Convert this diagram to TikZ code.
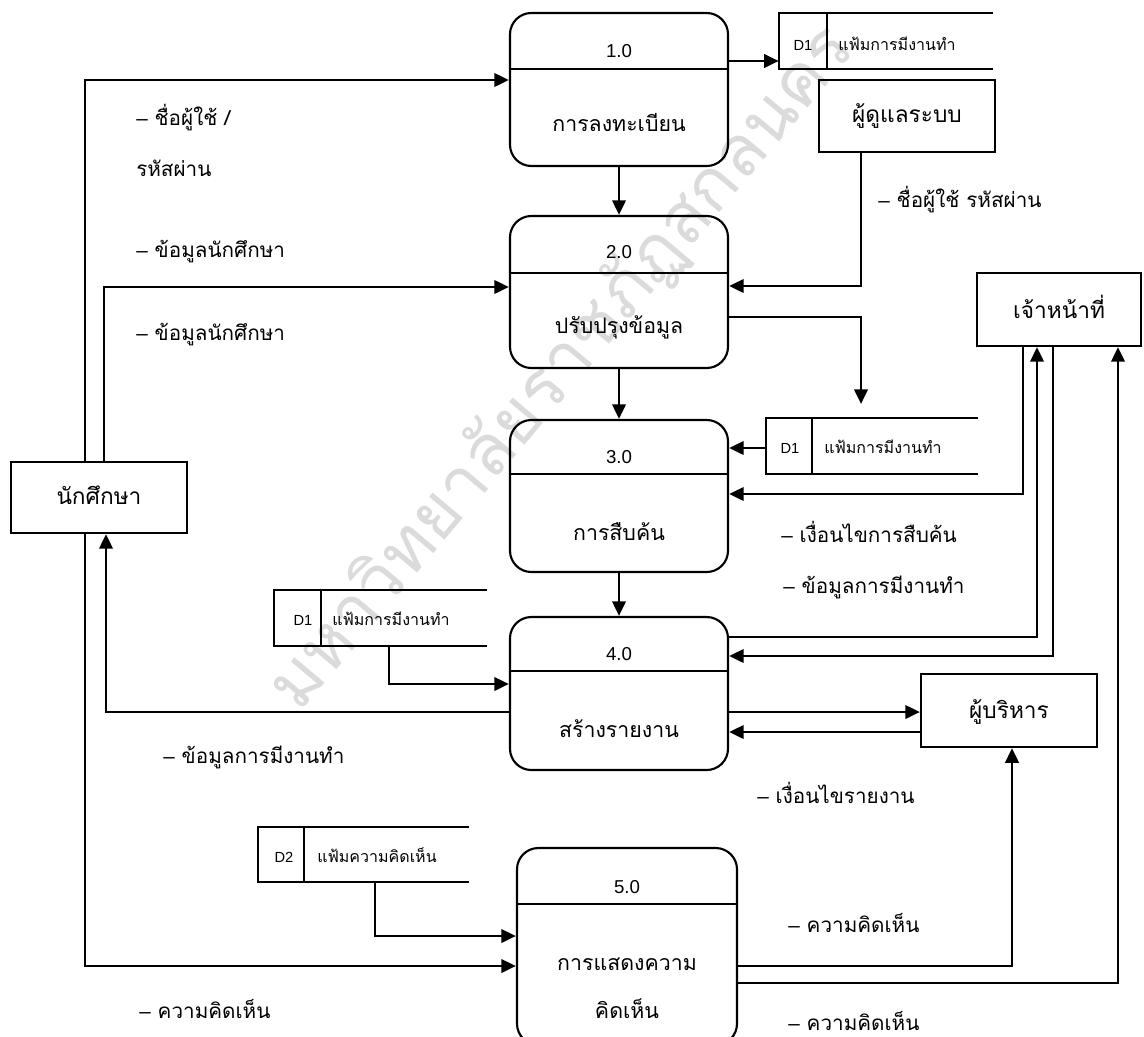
\documentclass[tikz,border=0pt]{standalone}
\usepackage{fontspec}
\setmainfont[Script=Thai]{Loma}
\newfontfamily\lat{Liberation Sans}
\usetikzlibrary{arrows.meta}
\newcommand\dd{{\lat –}}
\begin{document}
\begin{tikzpicture}[x=0.75pt,y=-0.75pt,
  proc/.style={draw, line width=1.6pt, rounded corners=16pt, minimum width=163.5pt, inner sep=0pt},
  ent/.style={draw, line width=1.6pt, inner sep=0pt},
  storenode/.style={inner sep=0pt, minimum height=42pt},
  etxt/.style={anchor=base, inner sep=0pt, font=\fontsize{17}{20}\selectfont},
  ptxt/.style={anchor=base, inner sep=0pt, font=\fontsize{16}{19}\selectfont},
  pnum/.style={anchor=base, inner sep=0pt, font=\lat\fontsize{14}{17}\selectfont},
  lbl/.style={anchor=base west, inner sep=0pt, font=\fontsize{15.5}{18}\selectfont},
  stxt/.style={anchor=base west, inner sep=0pt, font=\fontsize{12}{14}\selectfont},
  sid/.style={anchor=base, inner sep=0pt, font=\lat\fontsize{11}{13}\selectfont},
  flow/.style={line width=2.1pt, -{Triangle[length=11pt,width=10pt]}},
  divl/.style={line width=1.5pt},
  sline/.style={line width=1.5pt},
]
\useasboundingbox (0,0) rectangle (1144,1036);

% watermark
\node[text=gray!28, rotate=50, inner sep=0pt, font=\fontsize{53}{58}\selectfont] (wm) at (562,368) {มหาวิทยาลัยราชภัฏสกลนคร};

% processes
\node[proc, minimum height=114.75pt] (p1) at (619,89.5) {};
\draw[divl] (p1.west |- 0,69) -- (p1.east |- 0,69);
\node[pnum] (p1n) at (619,57) {1.0};
\node[ptxt] (p1t) at (619,131) {การลงทะเบียน};

\node[proc, minimum height=114pt] (p2) at (619,292) {};
\draw[divl] (p2.west |- 0,273) -- (p2.east |- 0,273);
\node[pnum] (p2n) at (619,258) {2.0};
\node[ptxt] (p2t) at (619,333) {ปรับปรุงข้อมูล};

\node[proc, minimum height=114pt] (p3) at (619,496) {};
\draw[divl] (p3.west |- 0,474) -- (p3.east |- 0,474);
\node[pnum] (p3n) at (619,463) {3.0};
\node[ptxt] (p3t) at (619,540) {การสืบค้น};

\node[proc, minimum height=114.75pt] (p4) at (619,693.5) {};
\draw[divl] (p4.west |- 0,671) -- (p4.east |- 0,671);
\node[pnum] (p4n) at (619,660) {4.0};
\node[ptxt] (p4t) at (619,737) {สร้างรายงาน};

\node[proc, minimum width=165pt, minimum height=147.75pt] (p5) at (627,946.5) {};
\draw[divl] (p5.west |- 0,904) -- (p5.east |- 0,904);
\node[pnum] (p5n) at (627,893) {5.0};
\node[ptxt] (p5t) at (627,970) {การแสดงความ};
\node[ptxt] (p5u) at (627,1018) {คิดเห็น};

% data stores
\node[storenode, minimum width=160.5pt] (d1a) at (886,41) {};
\draw[sline] (d1a.north east) -- (d1a.north west) -- (d1a.south west) -- (d1a.south east);
\draw[sline] (d1a.north -| 827,0) -- (d1a.south -| 827,0);
\node[sid] (d1aid) at (803,50) {D1};
\node[stxt] (d1at) at (838,50) {แฟ้มการมีงานทำ};

\node[storenode, minimum width=159pt] (d1b) at (872,446) {};
\draw[sline] (d1b.north east) -- (d1b.north west) -- (d1b.south west) -- (d1b.south east);
\draw[sline] (d1b.north -| 812,0) -- (d1b.south -| 812,0);
\node[sid] (d1bid) at (790,453) {D1};
\node[stxt] (d1bt) at (824,453) {แฟ้มการมีงานทำ};

\node[storenode, minimum width=159.75pt] (d1c) at (380.5,618) {};
\draw[sline] (d1c.north east) -- (d1c.north west) -- (d1c.south west) -- (d1c.south east);
\draw[sline] (d1c.north -| 321,0) -- (d1c.south -| 321,0);
\node[sid] (d1cid) at (303,625) {D1};
\node[stxt] (d1ct) at (332,625) {แฟ้มการมีงานทำ};

\node[storenode, minimum width=158.25pt, minimum height=41.25pt] (d2) at (363.5,854.5) {};
\draw[sline] (d2.north east) -- (d2.north west) -- (d2.south west) -- (d2.south east);
\draw[sline] (d2.north -| 304,0) -- (d2.south -| 304,0);
\node[sid] (d2id) at (284,862) {D2};
\node[stxt] (d2t) at (317,862) {แฟ้มความคิดเห็น};

% external entities
\node[ent, minimum width=132pt, minimum height=54pt] (adm) at (907,116) {};
\node[etxt] (admt) at (907,122) {ผู้ดูแลระบบ};
\node[ent, minimum width=123pt, minimum height=54.75pt] (stf) at (1059,309.5) {};
\node[etxt] (stft) at (1059,318) {เจ้าหน้าที่};
\node[ent, minimum width=132pt, minimum height=53.25pt] (st) at (99,497.5) {};
\node[etxt] (stt) at (99,504) {นักศึกษา};
\node[ent, minimum width=132pt, minimum height=54.75pt] (mgr) at (1009,710.5) {};
\node[etxt] (mgrt) at (1009,718) {ผู้บริหาร};

\coordinate (d1btop) at (861,404);

% flows
\draw[flow] (st.north -| 85,0) |- (p1.west |- 0,80);
\draw[flow] (st.north -| 104,0) |- (p2.west |- 0,287);
\draw[flow] (p4.west |- 0,712) -| (st.south -| 106,0);
\draw[flow] (st.south -| 85,0) |- (p5.west |- 0,966);
\draw[flow] (p1.east |- 0,61) -- (d1a.west |- 0,61);
\draw[flow] (p1.south) -- (p2.north);
\draw[flow] (p2.south) -- (p3.north);
\draw[flow] (p3.south) -- (p4.north);
\draw[flow] (adm.south -| 861,0) |- (p2.east |- 0,286);
\draw[flow] (p2.east |- 0,317) -| (d1btop);
\draw[flow] (d1b.west |- 0,448) -- (p3.east |- 0,448);
\draw[flow] (stf.south -| 1023,0) |- (p3.east |- 0,494);
\draw[flow] (p4.east |- 0,637) -| (stf.south -| 1037,0);
\draw[flow] (stf.south -| 1053,0) |- (p4.east |- 0,656);
\draw[flow] (p4.east |- 0,712) -- (mgr.west |- 0,712);
\draw[flow] (mgr.west |- 0,732) -- (p4.east |- 0,732);
\draw[flow] (d1c.south -| 389,0) |- (p4.west |- 0,684);
\draw[flow] (d2.south -| 375,0) |- (p5.west |- 0,936);
\draw[flow] (p5.east |- 0,966) -| (mgr.south -| 1012,0);
\draw[flow] (p5.east |- 0,983) -| (stf.south -| 1118,0);

% labels
\node[lbl] (l1) at (136,125) {\dd{} ชื่อผู้ใช้ /};
\node[lbl] (l2) at (136,176) {รหัสผ่าน};
\node[lbl] (l3) at (136,257) {\dd{} ข้อมูลนักศึกษา};
\node[lbl] (l4) at (136,340) {\dd{} ข้อมูลนักศึกษา};
\node[lbl] (l5) at (878,207) {\dd{} ชื่อผู้ใช้ รหัสผ่าน};
\node[lbl] (l6) at (781,542) {\dd{} เงื่อนไขการสืบค้น};
\node[lbl] (l7) at (783,593) {\dd{} ข้อมูลการมีงานทำ};
\node[lbl] (l8) at (163,763) {\dd{} ข้อมูลการมีงานทำ};
\node[lbl] (l9) at (757,803) {\dd{} เงื่อนไขรายงาน};
\node[lbl] (l10) at (788,932) {\dd{} ความคิดเห็น};
\node[lbl] (l11) at (139,1018) {\dd{} ความคิดเห็น};
\node[lbl] (l12) at (788,1030) {\dd{} ความคิดเห็น};
\end{tikzpicture}
\end{document}
